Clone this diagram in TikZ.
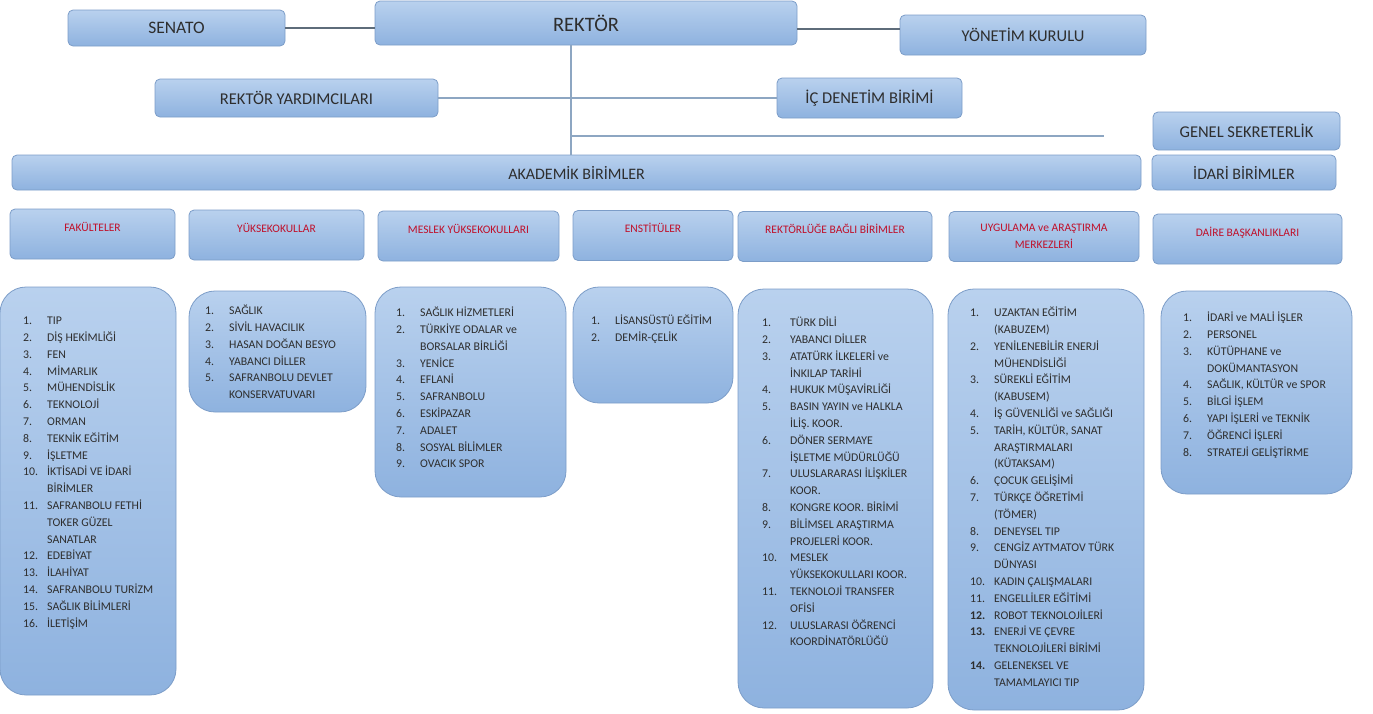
\documentclass[tikz,border=0pt]{standalone}
\usepackage{fontspec}
\setmainfont{Carlito}
\usetikzlibrary{positioning}
\definecolor{boxtop}{HTML}{B9D1EE}
\definecolor{boxbot}{HTML}{8EB2DF}
\definecolor{boxline}{HTML}{7C9DC8}
\definecolor{linkc}{HTML}{8DA6C2}
\definecolor{linkd}{HTML}{5E6C7A}
\definecolor{headred}{HTML}{C0102A}
\definecolor{txt}{HTML}{2E2E2E}
\newlength{\numw}
\newcommand{\nr}[1]{\strut\makebox[\numw][l]{#1}}
\tikzset{
  unit/.style={draw=boxline, line width=0.8pt, top color=boxtop, bottom color=boxbot,
    rounded corners=5pt, text=txt, inner sep=0pt},
  headbox/.style={unit, minimum height=50},
  headtxt/.style={text=headred, font=\fontsize{11.5}{17}\selectfont, align=center, inner sep=0pt, anchor=north},
  listbox/.style={unit, rounded corners=26pt},
  items/.style={text=txt, font=\fontsize{11.8}{16.8}\selectfont, align=left, inner sep=0pt,
    anchor=north west, execute at begin node={\setlength{\numw}{#1}}},
  items/.default=24pt,
  link/.style={draw=linkc, line width=1.3pt},
  linkdark/.style={draw=linkd, line width=1.3pt}
}
\begin{document}
\begin{tikzpicture}[x=1pt,y=-1pt]
\useasboundingbox (0,0) rectangle (1373,713);

\node[unit, minimum width=422, minimum height=44, font=\fontsize{20.5}{24}\selectfont] (rektor) at (586,23) {REKTÖR};
\node[unit, minimum width=217, minimum height=36, font=\fontsize{17.5}{20}\selectfont] (senato) at (176.5,28) {SENATO};
\node[unit, minimum width=246, minimum height=40, font=\fontsize{16.5}{19}\selectfont] (yonetim) at (1023,35) {YÖNETİM KURULU};
\node[unit, minimum width=283, minimum height=38, font=\fontsize{16.5}{19}\selectfont] (yard) at (296.5,98) {REKTÖR YARDIMCILARI};
\node[unit, minimum width=185, minimum height=40, font=\fontsize{16.5}{19}\selectfont] (icd) at (869.5,98) {İÇ DENETİM BİRİMİ};
\node[unit, minimum width=187, minimum height=38, font=\fontsize{16.5}{19}\selectfont] (gensek) at (1246.5,131) {GENEL SEKRETERLİK};
\node[unit, minimum width=1129, minimum height=35, font=\fontsize{16}{19}\selectfont] (akademik) at (576.5,172.5) {AKADEMİK BİRİMLER};
\node[unit, minimum width=184, minimum height=35, font=\fontsize{16}{19}\selectfont] (idari) at (1244,172.5) {İDARİ BİRİMLER};

\draw[linkdark] (senato) -- (senato -| rektor.west);
\draw[linkdark] ([yshift=-6]rektor.east) -- ([yshift=-6]rektor.east -| yonetim.west);
\coordinate (trunk) at ([xshift=-15]rektor.south);
\coordinate (gsend) at (1104,136);
\draw[link] (trunk) -- (trunk |- akademik.north);
\draw[link] (yard) -- (icd);
\draw[link] (trunk |- gsend) -- (gsend);

\foreach \n/\x/\y/\w/\t in {fak/92.5/234/165/FAKÜLTELER, yuk/276.5/235/175/YÜKSEKOKULLAR,
  mes/468.5/236/181/MESLEK YÜKSEKOKULLARI, ens/653/235.5/160/ENSTİTÜLER,
  rek/835/236.5/194/REKTÖRLÜĞE BAĞLI BİRİMLER, uyg/1044/236.5/190/{UYGULAMA ve ARAŞTIRMA\\MERKEZLERİ},
  dai/1247.5/239/189/DAİRE BAŞKANLIKLARI}
{
  \node[headbox, minimum width=\w] (h\n) at (\x,\y) {};
  \node[headtxt] (ht\n) at ([yshift=-13]h\n.north) {\t};
}

\foreach \n/\x/\y/\w/\h in {fak/88/491/176/408, yuk/277.5/351.5/177/121, mes/470.5/392/191/210,
  ens/653/345/160/116, rek/835.5/498.5/195/419, uyg/1046/499.5/196/421, dai/1256.5/392.5/191/203}
\node[listbox, minimum width=\w, minimum height=\h] (l\n) at (\x,\y) {};

\node[items] (tfak) at (23,312.7) {\nr{1.}TIP\\ \nr{2.}DİŞ HEKİMLİĞİ\\ \nr{3.}FEN\\ \nr{4.}MİMARLIK\\
  \nr{5.}MÜHENDİSLİK\\ \nr{6.}TEKNOLOJİ\\ \nr{7.}ORMAN\\ \nr{8.}TEKNİK EĞİTİM\\ \nr{9.}İŞLETME\\
  \nr{10.}İKTİSADİ VE İDARİ\\ \nr{}BİRİMLER\\ \nr{11.}SAFRANBOLU FETHİ\\ \nr{}TOKER GÜZEL\\
  \nr{}SANATLAR\\ \nr{12.}EDEBİYAT\\ \nr{13.}İLAHİYAT\\ \nr{14.}SAFRANBOLU TURİZM\\
  \nr{15.}SAĞLIK BİLİMLERİ\\ \nr{16.}İLETİŞİM};
\node[items] (tyuk) at (205,302.7) {\nr{1.}SAĞLIK\\ \nr{2.}SİVİL HAVACILIK\\ \nr{3.}HASAN DOĞAN BESYO\\
  \nr{4.}YABANCI DİLLER\\ \nr{5.}SAFRANBOLU DEVLET\\ \nr{}KONSERVATUVARI};
\node[items] (tmes) at (396,304.7) {\nr{1.}SAĞLIK HİZMETLERİ\\ \nr{2.}TÜRKİYE ODALAR ve\\
  \nr{}BORSALAR BİRLİĞİ\\ \nr{3.}YENİCE\\ \nr{4.}EFLANİ\\ \nr{5.}SAFRANBOLU\\ \nr{6.}ESKİPAZAR\\
  \nr{7.}ADALET\\ \nr{8.}SOSYAL BİLİMLER\\ \nr{9.}OVACIK SPOR};
\node[items] (tens) at (591,312.7) {\nr{1.}LİSANSÜSTÜ EĞİTİM\\ \nr{2.}DEMİR-ÇELİK};
\node[items=28pt] (trek) at (762,314.7) {\nr{1.}TÜRK DİLİ\\ \nr{2.}YABANCI DİLLER\\
  \nr{3.}ATATÜRK İLKELERİ ve\\ \nr{}İNKILAP TARİHİ\\ \nr{4.}HUKUK MÜŞAVİRLİĞİ\\
  \nr{5.}BASIN YAYIN ve HALKLA\\ \nr{}İLİŞ. KOOR.\\ \nr{6.}DÖNER SERMAYE\\ \nr{}İŞLETME MÜDÜRLÜĞÜ\\
  \nr{7.}ULUSLARARASI İLİŞKİLER\\ \nr{}KOOR.\\ \nr{8.}KONGRE KOOR. BİRİMİ\\
  \nr{9.}BİLİMSEL ARAŞTIRMA\\ \nr{}PROJELERİ KOOR.\\ \nr{10.}MESLEK\\ \nr{}YÜKSEKOKULLARI KOOR.\\
  \nr{11.}TEKNOLOJİ TRANSFER\\ \nr{}OFİSİ\\ \nr{12.}ULUSLARASI ÖĞRENCİ\\ \nr{}KOORDİNATÖRLÜĞÜ};
\node[items] (tuyg) at (970,304.7) {\nr{1.}UZAKTAN EĞİTİM\\ \nr{}(KABUZEM)\\
  \nr{2.}YENİLENEBİLİR ENERJİ\\ \nr{}MÜHENDİSLİĞİ\\ \nr{3.}SÜREKLİ EĞİTİM\\ \nr{}(KABUSEM)\\
  \nr{4.}İŞ GÜVENLİĞİ ve SAĞLIĞI\\ \nr{5.}TARİH, KÜLTÜR, SANAT\\ \nr{}ARAŞTIRMALARI\\ \nr{}(KÜTAKSAM)\\
  \nr{6.}ÇOCUK GELİŞİMİ\\ \nr{7.}TÜRKÇE ÖĞRETİMİ\\ \nr{}(TÖMER)\\ \nr{8.}DENEYSEL TIP\\
  \nr{9.}CENGİZ AYTMATOV TÜRK\\ \nr{}DÜNYASI\\ \nr{10.}KADIN ÇALIŞMALARI\\ \nr{11.}ENGELLİLER EĞİTİMİ\\
  \nr{\textbf{12.}}ROBOT TEKNOLOJİLERİ\\ \nr{\textbf{13.}}ENERJİ VE ÇEVRE\\ \nr{}TEKNOLOJİLERİ BİRİMİ\\
  \nr{\textbf{14.}}GELENEKSEL VE\\ \nr{}TAMAMLAYICI TIP};
\node[items] (tdai) at (1183,309.7) {\nr{1.}İDARİ ve MALİ İŞLER\\ \nr{2.}PERSONEL\\ \nr{3.}KÜTÜPHANE ve\\
  \nr{}DOKÜMANTASYON\\ \nr{4.}SAĞLIK, KÜLTÜR ve SPOR\\ \nr{5.}BİLGİ İŞLEM\\
  \nr{6.}YAPI İŞLERİ ve TEKNİK\\ \nr{7.}ÖĞRENCİ İŞLERİ\\ \nr{8.}STRATEJİ GELİŞTİRME};
\end{tikzpicture}
\end{document}
